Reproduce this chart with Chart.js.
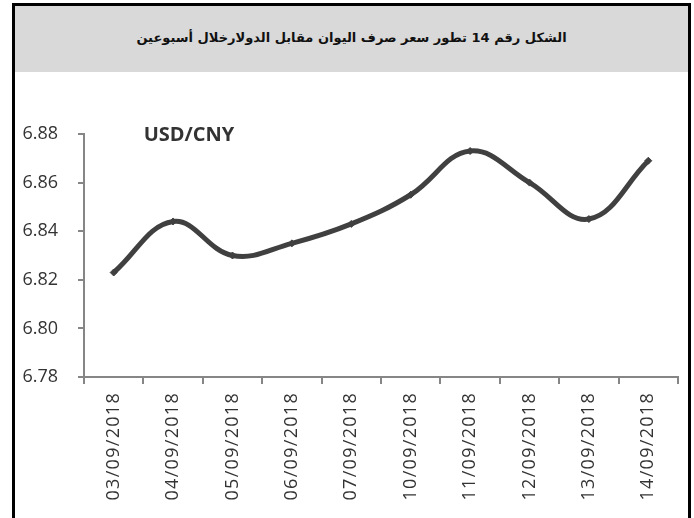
<!DOCTYPE html>
<html>
<head>
<meta charset="utf-8">
<script src="https://cdn.jsdelivr.net/npm/chart.js@4/dist/chart.umd.min.js"></script>
<style>
  html, body { margin: 0; padding: 0; background: #ffffff; width: 694px; height: 518px; overflow: hidden; }
  #frame { position: absolute; left: 12px; top: 3px; width: 673px; height: 530px; border: 3px solid #000; border-bottom: none; box-sizing: content-box; }
  #titlebar { position: absolute; left: 0; top: 0; width: 673px; height: 66px; box-sizing: border-box; padding-bottom: 4px; background: #d9d9d9; display: flex; align-items: center; justify-content: center; }
  #titlebar span { font-family: "DejaVu Sans", sans-serif; font-weight: bold; font-size: 13px; color: #111; direction: rtl; }
  #c { position: absolute; left: 0; top: 0; }
</style>
</head>
<body>
<div id="frame"><div id="titlebar"><span>الشكل رقم 14 تطور سعر صرف اليوان مقابل الدولارخلال أسبوعين</span></div></div>
<canvas id="c" width="694" height="518"></canvas>
<script>
const categories = ["03/09/2018","04/09/2018","05/09/2018","06/09/2018","07/09/2018","10/09/2018","11/09/2018","12/09/2018","13/09/2018","14/09/2018"];
const usdCny = [6.823, 6.844, 6.830, 6.835, 6.843, 6.855, 6.873, 6.860, 6.845, 6.869];
const seriesLabel = "USD/CNY";
const yMin = 6.78, yMax = 6.88, yStep = 0.02;

const labelPlugin = {
  id: 'seriesLabel',
  afterUpdate(chart) {
    const s = chart.scales.x;
    if (s && !s._lsWrapped) {
      const orig = s.drawLabels;
      s.drawLabels = function (area) {
        const ctx = this.ctx;
        ctx.save();
        ctx.letterSpacing = '1.3px';
        orig.call(this, area);
        ctx.restore();
      };
      s._lsWrapped = true;
    }
  },
  afterDraw(chart) {
    const ctx = chart.ctx, a = chart.chartArea;
    ctx.save();
    ctx.font = 'bold 20px "Open Sans"';
    ctx.fillStyle = '#333333';
    ctx.textAlign = 'center';
    ctx.textBaseline = 'middle';
    ctx.fillText(seriesLabel, a.left + 105, a.top + 1);
    ctx.restore();
  }
};

new Chart(document.getElementById('c'), {
  type: 'line',
  data: {
    labels: categories,
    datasets: [{
      label: seriesLabel,
      data: usdCny,
      borderColor: '#404040',
      backgroundColor: '#404040',
      borderWidth: 5,
      tension: 0.4,
      pointStyle: 'rectRot',
      pointRadius: 3.5,
      pointBorderWidth: 1,
      pointBackgroundColor: '#404040',
      pointBorderColor: '#404040',
      fill: false
    }]
  },
  options: {
    responsive: false,
    animation: false,
    devicePixelRatio: 1,
    layout: { padding: { left: 0, top: 134, right: 16, bottom: 0 } },
    plugins: { legend: { display: false }, tooltip: { enabled: false }, title: { display: false } },
    scales: {
      x: {
        type: 'category',
        offset: true,
        grid: { offset: true, drawOnChartArea: false, drawTicks: true, tickLength: 7, color: '#868686', lineWidth: 2 },
        border: { color: '#868686', width: 2 },
        ticks: { minRotation: 90, maxRotation: 90, autoSkip: false, padding: 8, color: '#333333', font: { family: 'Open Sans', size: 18 } },
        afterFit(scale) { scale.height = 141; }
      },
      y: {
        min: yMin, max: yMax,
        grid: { drawOnChartArea: false, drawTicks: true, tickLength: 6, color: '#868686', lineWidth: 2 },
        border: { color: '#868686', width: 2 },
        ticks: { stepSize: yStep, padding: 20, color: '#333333', font: { family: 'Open Sans', size: 18 }, callback: v => Number(v).toFixed(2) },
        afterFit(scale) { scale.width = 84; }
      }
    }
  },
  plugins: [labelPlugin]
});
</script>
</body>
</html>
